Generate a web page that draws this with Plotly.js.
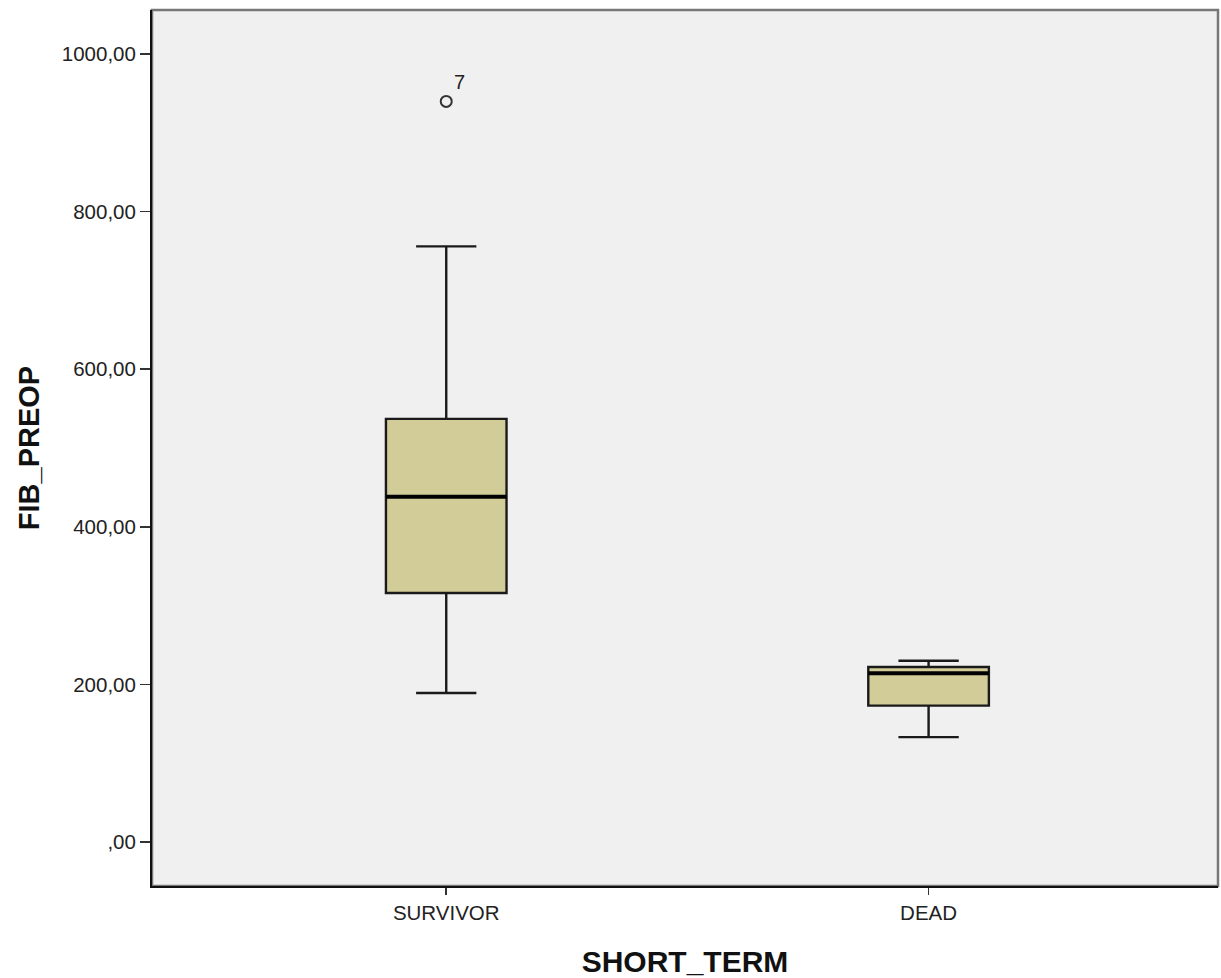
<!DOCTYPE html>
<html>
<head>
<meta charset="utf-8">
<script src="https://cdn.plot.ly/plotly-3.0.1.min.js"></script>
<style>html,body{margin:0;padding:0;background:#fff;}</style>
</head>
<body>
<div id="chart" style="width:1221px;height:978px;"></div>
<script>
const categories = ["SURVIVOR", "DEAD"];
const q1Vals = [316, 173];
const medianVals = [438, 214];
const q3Vals = [537, 222];
const lowerFence = [189, 133];
const upperFence = [756, 230];
const outlierCat = ["SURVIVOR"];
const outlierVals = [940];
const outlierLabels = ["7"];
const yTickVals = [0, 200, 400, 600, 800, 1000];
const yTickText = [",00", "200,00", "400,00", "600,00", "800,00", "1000,00"];

const boxWidth = 0.25;

const traces = [{
  type: "box",
  x: categories,
  q1: q1Vals,
  median: medianVals,
  q3: q3Vals,
  lowerfence: lowerFence,
  upperfence: upperFence,
  width: boxWidth,
  whiskerwidth: 0.5,
  fillcolor: "#d2cd98",
  line: {color: "#1a1a1a", width: 2.4},
  boxpoints: false,
  hoverinfo: "skip",
  showlegend: false
}];

// thicker median lines
categories.forEach((c, i) => {
  traces.push({
    type: "scatter",
    mode: "lines",
    x: [i - boxWidth / 2, i + boxWidth / 2],
    y: [medianVals[i], medianVals[i]],
    xaxis: "x2",
    line: {color: "#000", width: 4},
    hoverinfo: "skip",
    showlegend: false
  });
});

traces.push({
  type: "scatter",
  mode: "markers+text",
  x: outlierCat,
  y: outlierVals,
  text: outlierLabels,
  textposition: "top right",
  textfont: {family: "Liberation Sans, Arial", size: 20, color: "#222"},
  marker: {symbol: "circle-open", size: 11, color: "#333", line: {width: 2, color: "#333"}},
  hoverinfo: "skip",
  showlegend: false
});

const xr = [-0.61, 1.60];

const layout = {
  width: 1221,
  height: 978,
  margin: {l: 152, r: 3, t: 10, b: 92},
  paper_bgcolor: "#ffffff",
  plot_bgcolor: "#f0f0f0",
  font: {family: "Liberation Sans, Arial, sans-serif", color: "#222"},
  xaxis: {
    type: "category",
    categoryarray: categories,
    range: xr,
    showgrid: false,
    zeroline: false,
    showline: true,
    linecolor: "#111",
    linewidth: 2,
    ticks: "outside",
    ticklen: 7,
    tickwidth: 1.5,
    tickcolor: "#333",
    tickfont: {size: 20.5, color: "#222"},
    automargin: false,
    title: {text: "SHORT_TERM", font: {size: 30, color: "#111", weight: "bold"}, standoff: 28}
  },
  xaxis2: {
    overlaying: "x",
    range: xr,
    visible: false
  },
  yaxis: {
    range: [-56, 1056],
    tickvals: yTickVals,
    ticktext: yTickText,
    showgrid: false,
    zeroline: false,
    showline: true,
    linecolor: "#111",
    linewidth: 2,
    ticks: "outside",
    ticklen: 10,
    tickwidth: 1.5,
    tickcolor: "#333",
    tickfont: {size: 20.5, color: "#222"},
    automargin: false,
    title: {text: "FIB_PREOP", font: {size: 29, color: "#111", weight: "bold"}, standoff: 14}
  },
  shapes: [{
    type: "rect", xref: "paper", yref: "paper",
    x0: 0, x1: 1, y0: 0, y1: 1,
    line: {color: "#777", width: 2.5},
    layer: "below"
  }]
};

Plotly.newPlot("chart", traces, layout, {displayModeBar: false, staticPlot: true});
</script>
</body>
</html>
